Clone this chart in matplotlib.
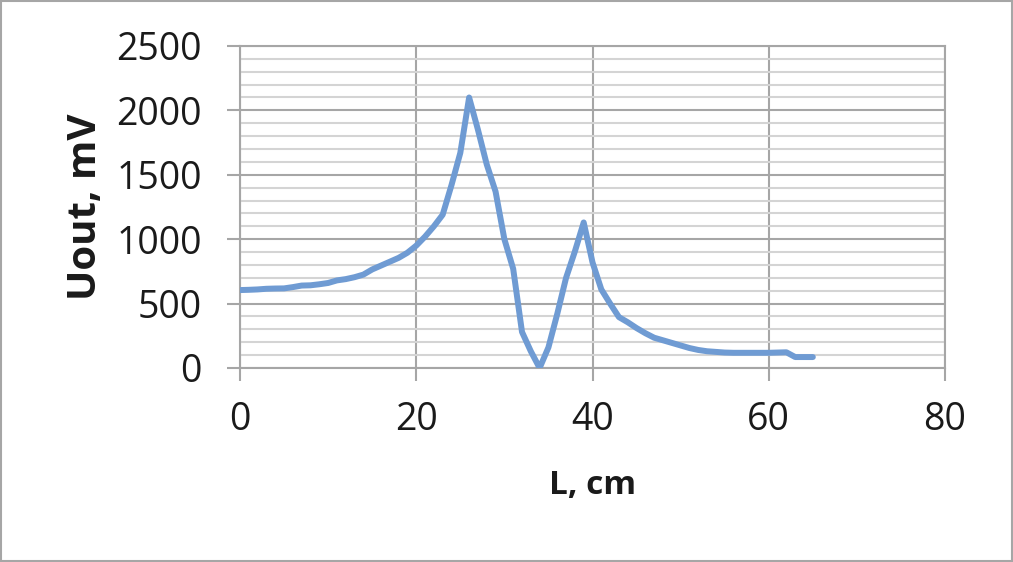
import matplotlib.pyplot as plt
from matplotlib.patches import Rectangle
from matplotlib.ticker import MultipleLocator

# Datos: distancia L (cm) y tensión de salida (mV)
L_cm = list(range(0, 66))
U_mV = [605, 607, 610, 615, 617, 618, 628, 640, 642, 650,
        660, 680, 690, 705, 725, 765, 795, 825, 855, 895,
        950, 1020, 1100, 1190, 1420, 1670, 2100, 1850, 1580, 1370,
        1000, 770, 280, 130, 0, 160, 420, 700, 905, 1130,
        820, 610, 500, 395, 355, 310, 270, 235, 215, 195,
        175, 155, 140, 130, 125, 120, 118, 118, 118, 118,
        118, 120, 122, 85, 85, 85]

x_ticks = [0, 20, 40, 60, 80]
y_ticks = [0, 500, 1000, 1500, 2000, 2500]

plt.rcParams['font.family'] = ['Open Sans', 'DejaVu Sans']

fig = plt.figure(figsize=(10.13, 5.62), dpi=100)
ax = fig.add_axes([0.2369, 0.3452, 0.696, 0.573])

ax.plot(L_cm, U_mV, color='#6f9bd3', linewidth=4.3,
        solid_capstyle='round', solid_joinstyle='round', zorder=3)

ax.set_xlim(0, 80)
ax.set_ylim(0, 2500)
ax.set_xticks(x_ticks)
ax.set_yticks(y_ticks)
ax.yaxis.set_minor_locator(MultipleLocator(100))

ax.grid(which='major', color='#a6a6a6', linewidth=1.5)
ax.grid(which='minor', axis='y', color='#d4d4d4', linewidth=1.5)
ax.set_axisbelow(True)

for s in ax.spines.values():
    s.set_color('#a6a6a6')
    s.set_linewidth(1.5)

ax.tick_params(which='major', length=9.5, width=1.5, color='#a6a6a6',
               labelsize=27, labelcolor='#1a1a1a')
ax.tick_params(axis='y', pad=18)
ax.tick_params(axis='x', pad=14)
ax.tick_params(which='minor', length=0)

ax.set_xlabel('L, cm', fontsize=24, fontweight='bold', color='#1a1a1a', labelpad=22)
ax.set_ylabel('Uout, mV', fontsize=29, fontweight='bold', color='#1a1a1a', labelpad=8)

# Borde del área del gráfico
fig.patches.append(Rectangle((0.001, 0.002), 0.998, 0.996, transform=fig.transFigure,
                             fill=False, edgecolor='#a6a6a6', linewidth=1.5))

fig.savefig('out.png', dpi=100)
